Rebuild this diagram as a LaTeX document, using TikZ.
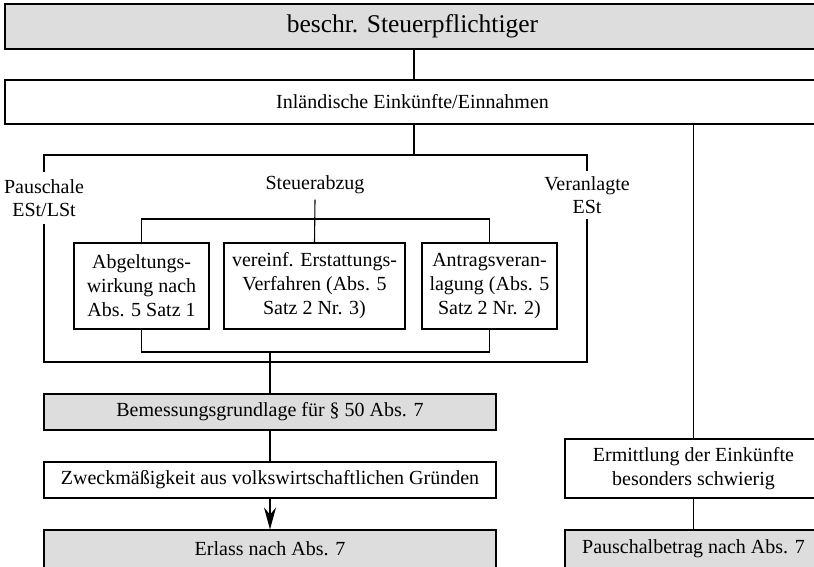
\documentclass[tikz,border=0pt]{standalone}
\usepackage{fontspec}
\setmainfont{Liberation Serif}
\usetikzlibrary{arrows.meta, positioning}

\begin{document}
\begin{tikzpicture} [x=1pt, y=-1pt, line width=1.1pt,
    box/.style = {draw, rectangle, inner sep=0pt, align=center, font=\fontsize{20}{24}\selectfont},
    grey/.style = {box, fill=gray!27},
    lbl/.style = {inner xsep=0pt, align=center, font=\fontsize{20}{23}\selectfont}]
    \useasboundingbox (0,0) rectangle (814,566);

    % oberer Teil
    \node (top) [grey, minimum width=815, minimum height=45, font=\fontsize{25.5}{28}\selectfont] at (412.5,26.5) {beschr. Steuerpflichtiger};
    \node (ein) [box, minimum width=815, minimum height=44] at (412.5,102) {Inländische Einkünfte/Einnahmen};

    \node (paus) [lbl, inner ysep=7pt] at (44,198) {Pauschale\\ESt/LSt};
    \node (veran) [lbl, inner ysep=5pt] at (587,195) {Veranlagte\\ESt};
    \node (steu) [lbl, inner ysep=5pt] at (315,185) {Steuerabzug};

    % Steuerabzug
    \node (abg) [box, minimum width=135, minimum height=86] at (141.5,286) {Abgeltungs-\\wirkung nach\\Abs. 5 Satz 1};
    \node (erst) [box, minimum width=181, minimum height=86] at (314.5,286) {vereinf. Erstattungs-\\Verfahren (Abs. 5\\Satz 2 Nr. 3)};
    \node (antr) [box, minimum width=135, minimum height=86] at (489.5,286) {Antragsveran-\\lagung (Abs. 5\\Satz 2 Nr. 2)};

    % unterer Teil
    \node (bem) [grey, minimum width=452, minimum height=36] at (270,412) {Bemessungsgrundlage für § 50 Abs. 7};
    \node (zweck) [box, minimum width=452, minimum height=36] at (270,480) {Zweckmäßigkeit aus volkswirtschaftlichen Gründen};
    \node (erl) [grey, minimum width=452, minimum height=38] at (270,549) {Erlass nach Abs. 7};
    \node (ermit) [box, minimum width=257, minimum height=59] at (693.5,468.5) {Ermittlung der Einkünfte\\besonders schwierig};
    \node (pausch) [grey, minimum width=257, minimum height=38] at (693.5,549) {Pauschalbetrag nach Abs. 7};

    \coordinate (split) at (414,155);
    \coordinate (tsplit) at (315,219);
    \coordinate (jin) at (270,352);
    \coordinate (join) at (270,362);

    \draw (top.south -| split) -- (ein.north -| split);
    \draw (ein.south -| split) -- (split);
    \draw (paus.north) |- (split) -| (veran.north);
    \draw (steu.south) -- (erst.north);
    \draw (abg.north) |- (tsplit) -| (antr.north);
    \draw (abg.south) |- (jin) -| (antr.south);
    \draw (paus.south) |- (join) -| (veran.south);
    \draw (jin) -- (bem.north);
    \draw (bem.south) -- (zweck.north);
    \draw [-{Stealth[length=22pt, width=12pt]}] (zweck.south) -- (erl.north);
    \draw (ein.south -| ermit.north) -- (ermit.north);
    \draw (ermit.south) -- (pausch.north);
\end{tikzpicture}
\end{document}
